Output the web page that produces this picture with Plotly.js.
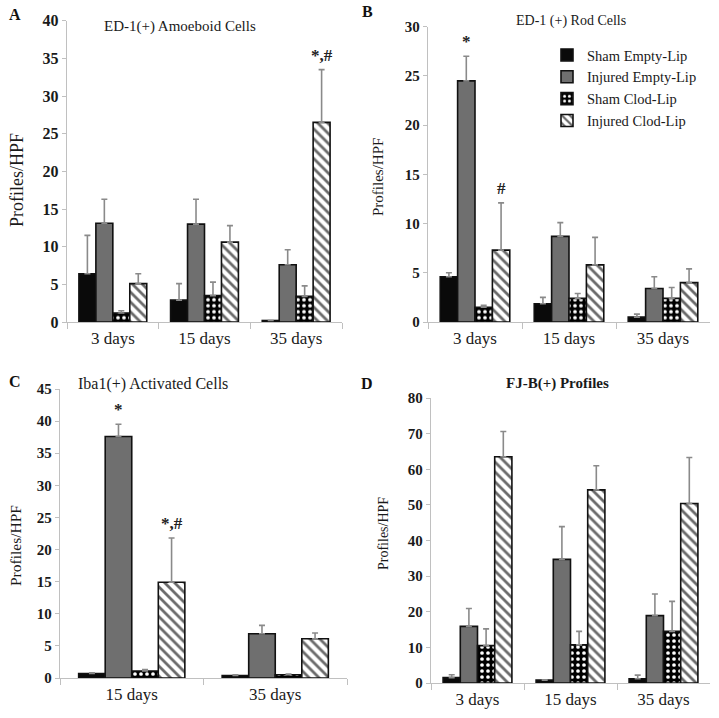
<!DOCTYPE html>
<html>
<head>
<meta charset="utf-8">
<script src="https://cdn.plot.ly/plotly-3.0.1.min.js"></script>
<style>html,body{margin:0;padding:0;background:#fff;}#chart{width:719px;height:718px;}</style>
</head>
<body>
<div id="chart"></div>
<script>
// ---------- data ----------
const seriesNames = ["Sham Empty-Lip", "Injured Empty-Lip", "Sham Clod-Lip", "Injured Clod-Lip"];

// Panel A: ED-1(+) Amoeboid Cells
const catsA = ["3 days", "15 days", "35 days"];
const valsA = [[6.4, 2.9, 0.2], [13.1, 13.0, 7.6], [1.2, 3.5, 3.4], [5.1, 10.6, 26.5]];
const errA  = [[5.1, 2.2, 0.0], [3.2, 3.3, 2.0], [0.3, 1.8, 1.4], [1.3, 2.2, 7.0]];

// Panel B: ED-1 (+) Rod Cells
const catsB = ["3 days", "15 days", "35 days"];
const valsB = [[4.6, 1.85, 0.5], [24.5, 8.7, 3.4], [1.5, 2.4, 2.4], [7.3, 5.8, 4.0]];
const errB  = [[0.4, 0.65, 0.3], [2.5, 1.4, 1.2], [0.2, 0.5, 1.1], [4.8, 2.8, 1.4]];

// Panel C: Iba1(+) Activated Cells
const catsC = ["15 days", "35 days"];
const valsC = [[0.7, 0.4], [37.6, 6.9], [1.1, 0.5], [14.9, 6.1]];
const errC  = [[0.1, 0.1], [1.9, 1.3], [0.2, 0.1], [6.9, 0.9]];

// Panel D: FJ-B(+) Profiles
const catsD = ["3 days", "15 days", "35 days"];
const valsD = [[1.5, 0.8, 1.2], [15.9, 34.7, 18.9], [10.5, 10.7, 14.5], [63.5, 54.2, 50.4]];
const errD  = [[0.8, 0.1, 1.0], [5.0, 9.2, 6.1], [4.7, 3.8, 8.4], [7.1, 6.8, 12.9]];

const titles = ["ED-1(+) Amoeboid Cells", "ED-1 (+) Rod Cells", "Iba1(+) Activated Cells", "FJ-B(+) Profiles"];
const panelLetters = ["A", "B", "C", "D"];
const yRanges = [[0, 40], [0, 30], [0, 45], [0, 80]];
const yDtick = [5, 5, 5, 10];

// significance marks: [panel, category index, series index, text]
const marks = [[0, 2, 3, "*,#"], [1, 0, 1, "*"], [1, 0, 3, "#"], [2, 0, 1, "*"], [2, 0, 3, "*,#"]];

// ---------- styles ----------
const SERIF = "Liberation Serif, Times New Roman, serif";
const styles = [
  {color: "#0a0a0a", pattern: {shape: ""}},
  {color: "#6f6f6f", pattern: {shape: ""}},
  {color: "#000000", pattern: {shape: ".", bgcolor: "#000000", fgcolor: "#ffffff", size: 6, solidity: 0.3, fillmode: "replace"}},
  {color: "#ffffff", pattern: {shape: "\\", bgcolor: "#ffffff", fgcolor: "#6a6a6a", size: 7, solidity: 0.4, fillmode: "replace"}}
];

const panels = [
  {cats: catsA, vals: valsA, errs: errA},
  {cats: catsB, vals: valsB, errs: errB},
  {cats: catsC, vals: valsC, errs: errC},
  {cats: catsD, vals: valsD, errs: errD}
];

// per-panel text sizes (the source panels were composed at slightly different scales)
const yTickSize = [16, 15, 15, 15];
const xTickSize = [17, 17, 17, 17];
const titleSize = [15, 14, 16, 15];
const yTitleSize = [18, 15, 15.5, 14];

const W = 719, H = 718;
const xDom = [[67/W, 342/W], [428/W, 710/W], [60/W, 347/W], [431/W, 710/W]];
const yDom = [[1-322/H, 1-20.7/H], [1-322/H, 1-26.7/H], [1-678/H, 1-389/H], [1-683/H, 1-398/H]];

const traces = [];
panels.forEach((p, pi) => {
  const xa = pi === 0 ? "x" : "x" + (pi + 1);
  const ya = pi === 0 ? "y" : "y" + (pi + 1);
  for (let s = 0; s < 4; s++) {
    traces.push({
      type: "bar",
      name: seriesNames[s],
      x: p.cats,
      y: p.vals[s],
      xaxis: xa, yaxis: ya,
      legendgroup: seriesNames[s],
      showlegend: pi === 1,
      marker: {color: styles[s].color, pattern: styles[s].pattern, line: {color: "#111", width: 1.6}},
      error_y: {type: "data", symmetric: false, array: p.errs[s], arrayminus: p.errs[s].map(() => 0),
                color: "#8a8a8a", thickness: 1.6, width: 3},
      hoverinfo: "skip"
    });
  }
});

const layout = {
  width: W, height: H,
  margin: {l: 0, r: 0, t: 0, b: 0},
  paper_bgcolor: "#fff", plot_bgcolor: "rgba(0,0,0,0)",
  barmode: "group", bargap: 0.26, bargroupgap: 0,
  font: {family: SERIF, color: "#1a1a1a", size: 14},
  showlegend: true,
  legend: {x: 547/W, y: 1 - 39/H, xanchor: "left", yanchor: "top", bgcolor: "rgba(0,0,0,0)",
           font: {family: SERIF, size: 14.5, color: "#1a1a1a"}, tracegroupgap: 0, itemwidth: 30, traceorder: "normal"},
  annotations: []
};

panels.forEach((p, pi) => {
  const sfx = pi === 0 ? "" : String(pi + 1);
  layout["xaxis" + sfx] = {
    domain: xDom[pi], anchor: "y" + sfx, type: "category",
    showline: true, linecolor: "#c0c0c0", linewidth: 1.2,
    ticks: "outside", tickson: "boundaries", ticklen: 6, tickcolor: "#c0c0c0",
    showgrid: false, zeroline: false, fixedrange: true,
    tickfont: {family: SERIF, size: xTickSize[pi], color: "#1a1a1a"}
  };
  layout["yaxis" + sfx] = {
    domain: yDom[pi], anchor: "x" + sfx, range: yRanges[pi], dtick: yDtick[pi],
    showline: true, linecolor: "#c0c0c0", linewidth: 1.2,
    ticks: "outside", ticklen: 4, tickcolor: "#c0c0c0",
    showgrid: false, zeroline: false, fixedrange: true,
    tickfont: {family: SERIF, size: yTickSize[pi], color: "#1a1a1a", weight: "bold"}
  };
});

// titles, letters, y-axis titles
const titlePos = [[180, 27], [571, 21], [153, 384], [557, 383]];
const letterPos = [[15, 14], [367, 12], [15, 381], [367, 383]];
const yTitlePos = [[17, 180], [378, 177], [15, 546], [383, 534]];
for (let i = 0; i < 4; i++) {
  layout.annotations.push({xref: "paper", yref: "paper", x: titlePos[i][0]/W, y: 1 - titlePos[i][1]/H,
    text: titles[i], showarrow: false, xanchor: "center", yanchor: "middle",
    font: {family: SERIF, size: titleSize[i], color: "#1a1a1a", weight: i === 3 ? "bold" : "normal"}});
  layout.annotations.push({xref: "paper", yref: "paper", x: letterPos[i][0]/W, y: 1 - letterPos[i][1]/H,
    text: "<b>" + panelLetters[i] + "</b>", showarrow: false, xanchor: "center", yanchor: "middle",
    font: {family: SERIF, size: 16, color: "#111"}});
  layout.annotations.push({xref: "paper", yref: "paper", x: yTitlePos[i][0]/W, y: 1 - yTitlePos[i][1]/H,
    text: "Profiles/HPF", textangle: -90, showarrow: false, xanchor: "center", yanchor: "middle",
    font: {family: SERIF, size: yTitleSize[i], color: "#1a1a1a"}});
}

// significance marks, placed above error bar tops (bar offsets within group)
const groupW = 1 - layout.bargap;
marks.forEach(m => {
  const [pi, ci, si, txt] = m;
  const p = panels[pi];
  const sfx = pi === 0 ? "" : String(pi + 1);
  const off = (si - 1.5) * groupW / 4;
  layout.annotations.push({xref: "x" + sfx, yref: "y" + sfx, x: ci + off, y: p.vals[si][ci] + p.errs[si][ci],
    text: "<b>" + txt + "</b>", showarrow: false, xanchor: "center", yanchor: "bottom", yshift: 3,
    font: {family: SERIF, size: 17, color: "#222"}});
});

Plotly.newPlot("chart", traces, layout, {staticPlot: true, displayModeBar: false});
</script>
</body>
</html>
